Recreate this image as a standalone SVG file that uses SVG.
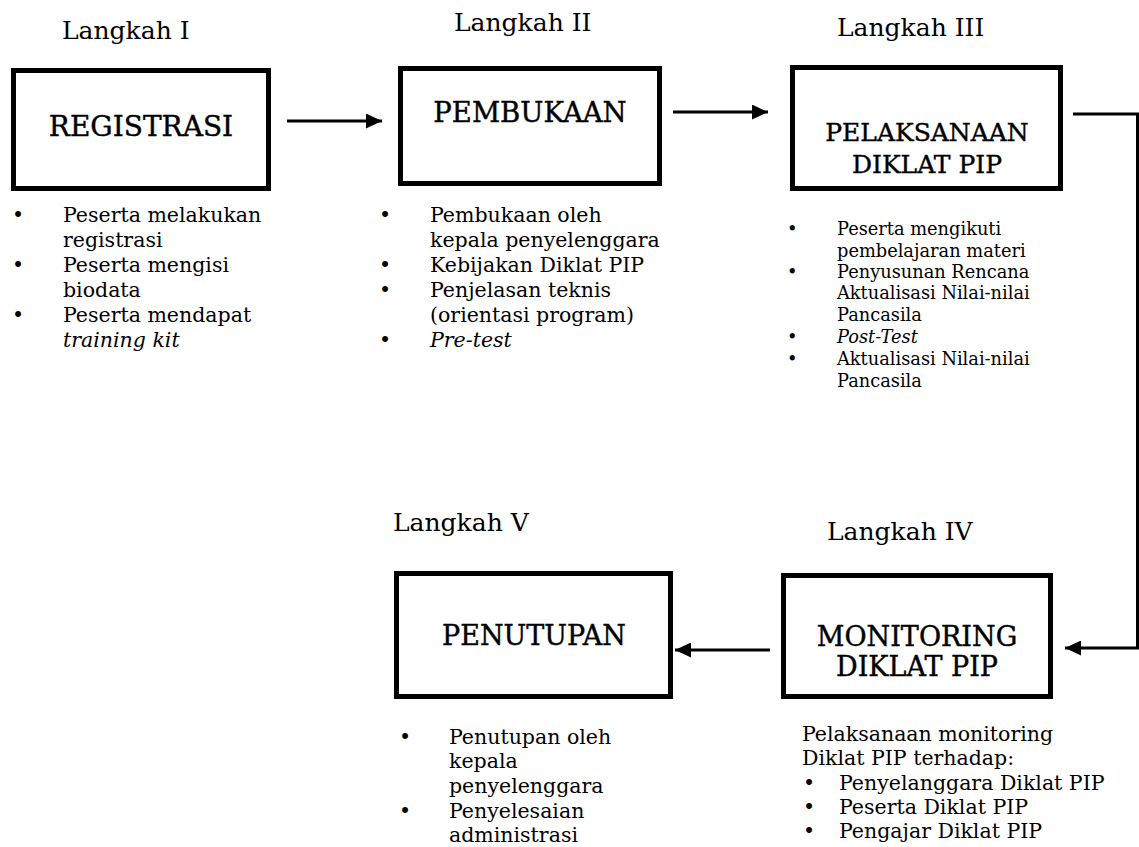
<svg xmlns="http://www.w3.org/2000/svg" width="1139" height="847" viewBox="0 0 1139 847">
<style>
text{font-family:"DejaVu Serif","Liberation Serif",serif;fill:#000}
.step{font-size:25px}
.title{font-size:27.5px;stroke:#000;stroke-width:0.4}
.t3{font-size:25px}
.li{font-size:20.5px}
.li3{font-size:17.8px}
.it{font-style:italic}
.box{fill:#fff;stroke:#000;stroke-width:5}
.conn{fill:none;stroke:#000;stroke-width:3}
</style>
<defs>
<marker id="ah" markerUnits="userSpaceOnUse" markerWidth="16" markerHeight="15" refX="16" refY="7.5" orient="auto">
<path d="M0,0 L16,7.5 L0,15 Z" fill="#000"/>
</marker>
</defs>
<g id="connectors">
<path class="conn" d="M287,121 H382" marker-end="url(#ah)"/>
<path class="conn" d="M673,112 H768" marker-end="url(#ah)"/>
<path class="conn" d="M1073,114 H1137.5 V648 H1065" marker-end="url(#ah)"/>
<path class="conn" d="M770,650 H675" marker-end="url(#ah)"/>
</g>
<g id="step1">
<text class="step" x="62" y="39">Langkah I</text>
<rect class="box" x="13.5" y="70.5" width="255" height="118"/>
<text class="title" x="141" y="136" text-anchor="middle" style="font-size:28px">REGISTRASI</text>
<g class="li">
<text x="12" y="222">•</text><text x="63" y="222">Peserta melakukan</text>
<text x="63" y="247">registrasi</text>
<text x="12" y="272">•</text><text x="63" y="272">Peserta mengisi</text>
<text x="63" y="297">biodata</text>
<text x="12" y="322">•</text><text x="63" y="322">Peserta mendapat</text>
<text x="63" y="347" class="it">training kit</text>
</g>
</g>
<g id="step2">
<text class="step" x="454" y="31">Langkah II</text>
<rect class="box" x="400.5" y="68.5" width="259" height="115"/>
<text class="title" x="530" y="122" text-anchor="middle">PEMBUKAAN</text>
<g class="li">
<text x="379" y="222">•</text><text x="430" y="222">Pembukaan oleh</text>
<text x="430" y="247">kepala penyelenggara</text>
<text x="379" y="272">•</text><text x="430" y="272">Kebijakan Diklat PIP</text>
<text x="379" y="297">•</text><text x="430" y="297">Penjelasan teknis</text>
<text x="430" y="322">(orientasi program)</text>
<text x="379" y="347">•</text><text x="430" y="347" class="it">Pre-test</text>
</g>
</g>
<g id="step3">
<text class="step" x="837" y="36">Langkah III</text>
<rect class="box" x="792.5" y="67.5" width="268" height="121"/>
<text class="title t3" x="927" y="141" text-anchor="middle">PELAKSANAAN</text>
<text class="title t3" x="927" y="173" text-anchor="middle">DIKLAT PIP</text>
<g class="li3">
<text x="787" y="235">•</text><text x="837" y="235">Peserta mengikuti</text>
<text x="837" y="257">pembelajaran materi</text>
<text x="787" y="278">•</text><text x="837" y="278">Penyusunan Rencana</text>
<text x="837" y="299">Aktualisasi Nilai-nilai</text>
<text x="837" y="321">Pancasila</text>
<text x="787" y="343" class="it">•</text><text x="837" y="343" class="it">Post-Test</text>
<text x="787" y="365" class="it">•</text><text x="837" y="365">Aktualisasi Nilai-nilai</text>
<text x="837" y="387">Pancasila</text>
</g>
</g>
<g id="step4">
<text class="step" x="827" y="540">Langkah IV</text>
<rect class="box" x="783.5" y="575.5" width="267" height="121"/>
<text class="title" x="917" y="646" text-anchor="middle" style="font-size:27px">MONITORING</text>
<text class="title" x="917" y="676" text-anchor="middle" style="font-size:27px">DIKLAT PIP</text>
<g class="li">
<text x="802" y="741">Pelaksanaan monitoring</text>
<text x="802" y="765">Diklat PIP terhadap:</text>
<text x="803" y="790">•</text><text x="839" y="790">Penyelanggara Diklat PIP</text>
<text x="803" y="814">•</text><text x="839" y="814">Peserta Diklat PIP</text>
<text x="803" y="838">•</text><text x="839" y="838">Pengajar Diklat PIP</text>
</g>
</g>
<g id="step5">
<text class="step" x="393" y="531">Langkah V</text>
<rect class="box" x="396.5" y="573.5" width="274" height="123"/>
<text class="title" x="534" y="645" text-anchor="middle" style="font-size:27px">PENUTUPAN</text>
<g class="li">
<text x="399" y="744">•</text><text x="449" y="744">Penutupan oleh</text>
<text x="449" y="768">kepala</text>
<text x="449" y="793">penyelenggara</text>
<text x="399" y="818">•</text><text x="449" y="818">Penyelesaian</text>
<text x="449" y="842">administrasi</text>
</g>
</g>
</svg>
